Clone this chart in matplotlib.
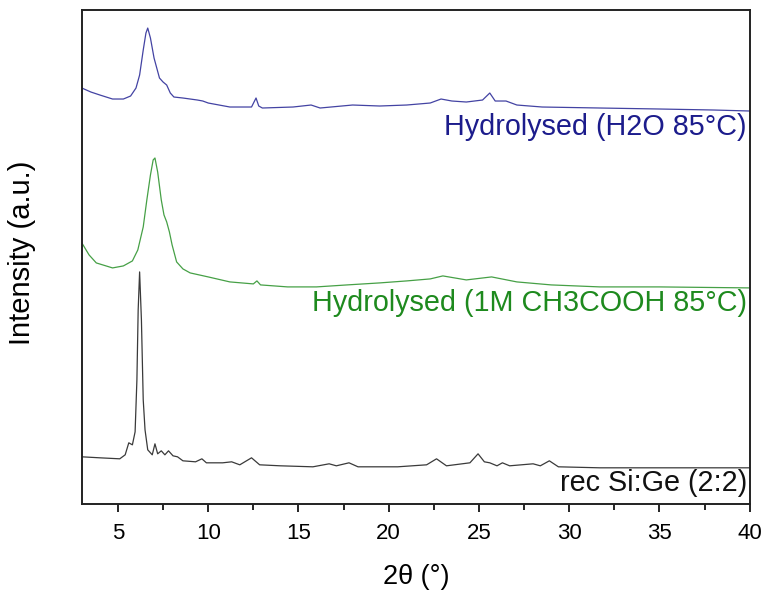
import matplotlib
matplotlib.use("Agg")
import matplotlib.pyplot as plt
from matplotlib.ticker import MultipleLocator

plt.rcParams['font.family'] = ['Liberation Sans', 'DejaVu Sans']

# XRD patterns, intensity in arbitrary units (stacked as in the figure)
h2o_x = [3.0, 3.5, 4.0, 4.7, 5.3, 5.7, 6.0, 6.2, 6.4, 6.55, 6.65, 6.8, 7.0, 7.3, 7.5,
         7.7, 7.9, 8.1, 8.6, 9.4, 9.7, 10.0, 11.2, 12.4, 12.65, 12.8, 13.0, 14.7,
         15.7, 16.2, 18.0, 19.5, 21.0, 22.3, 22.9, 23.5, 24.3, 25.2, 25.6, 25.9,
         26.5, 27.1, 28.5, 31.7, 35.0, 38.0, 40.0]
h2o_y = [416, 412, 409, 405, 405, 408, 416, 429, 454, 471, 476, 466, 446, 426, 422,
         419, 411, 407, 406, 404, 403, 401, 397, 397, 406, 398, 396, 397,
         399, 396, 399, 398, 399, 401, 405, 403, 402, 404, 411, 403,
         403, 399, 397, 396, 395, 394, 393]

acid_x = [3.0, 3.4, 3.8, 4.7, 5.3, 5.8, 6.1, 6.4, 6.6, 6.8, 6.95, 7.05, 7.2, 7.4,
          7.55, 7.7, 7.85, 8.0, 8.25, 8.6, 9.0, 10.0, 11.2, 12.5, 12.7, 12.9,
          14.4, 16.0, 17.7, 19.5, 21.0, 22.3, 23.0, 24.3, 25.7, 27.1, 29.0,
          31.7, 35.0, 40.0]
acid_y = [261, 249, 241, 236, 238, 243, 254, 277, 304, 329, 344, 346, 332, 304,
          289, 282, 272, 259, 242, 235, 231, 227, 222, 220, 223, 219,
          217, 217, 219, 221, 223, 225, 228, 224, 227, 222, 219,
          217, 217, 216]

rec_x = [3.0, 4.0, 5.1, 5.4, 5.6, 5.8, 5.95, 6.05, 6.12, 6.2, 6.3, 6.4, 6.5, 6.65,
         6.9, 7.05, 7.2, 7.4, 7.6, 7.8, 8.05, 8.3, 8.6, 9.3, 9.65, 9.9, 10.8,
         11.3, 11.75, 12.4, 12.85, 14.0, 15.8, 16.7, 17.1, 17.8, 18.3, 20.5,
         22.1, 22.65, 23.2, 24.5, 24.95, 25.3, 25.6, 26.0, 26.3, 26.7, 28.0,
         28.4, 28.9, 29.4, 31.7, 40.0]
rec_y = [47, 46, 45, 49, 61, 59, 72, 124, 194, 232, 184, 104, 74, 54,
         49, 60, 50, 53, 49, 53, 48, 47, 43, 42, 45, 41, 41,
         42, 39, 46, 39, 38, 37, 40, 38, 41, 37, 37,
         39, 45, 38, 41, 50, 42, 41, 38, 41, 38, 40,
         38, 43, 37, 36, 36]

labels = ['Hydrolysed (H2O 85°C)', 'Hydrolysed (1M CH3COOH 85°C)', 'rec Si:Ge (2:2)']
label_y = [377, 201, 21]

fig = plt.figure(figsize=(7.65, 5.92), dpi=100)
ax = fig.add_axes([0.107, 0.149, 0.873, 0.834])

ax.plot(h2o_x, h2o_y, color='#4343a3', lw=0.9)
ax.plot(acid_x, acid_y, color='#46a046', lw=0.9)
ax.plot(rec_x, rec_y, color='#3a3a3a', lw=0.9)

text_colors = ['#1c1c8c', '#1e8a1e', '#111111']
for lab, ly, c in zip(labels, label_y, text_colors):
    ax.text(39.85, ly, lab, color=c, fontsize=20.7, ha='right', va='center')

ax.set_xlim(3, 40)
ax.set_ylim(0, 494)
ax.xaxis.set_major_locator(MultipleLocator(5))
ax.xaxis.set_minor_locator(MultipleLocator(2.5))
ax.tick_params(axis='x', which='major', direction='out', length=6, width=1.2,
               labelsize=16, pad=8)
ax.tick_params(axis='x', which='minor', direction='out', length=4, width=1.2)
ax.set_yticks([])
for s in ax.spines.values():
    s.set_linewidth(1.4)
    s.set_color('#222222')

ax.set_xlabel('2θ (°)', fontsize=19.5, labelpad=14)
ax.set_ylabel('Intensity (a.u.)', fontsize=21)
ax.yaxis.set_label_coords(-0.068, 0.508)

fig.savefig('out.png', dpi=100)
